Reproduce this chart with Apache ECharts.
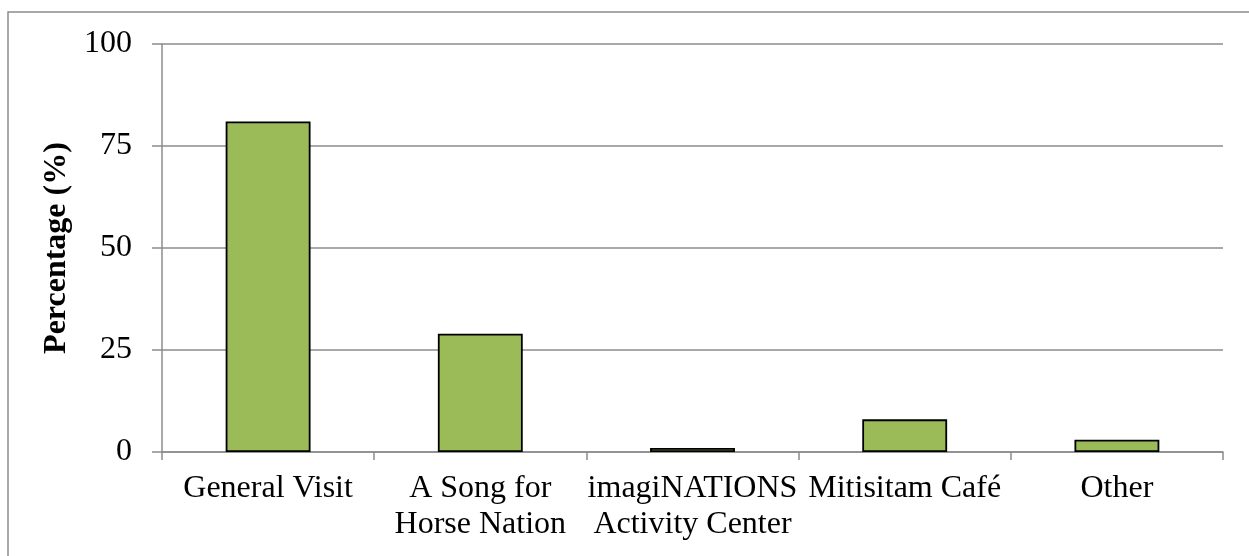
<!DOCTYPE html>
<html>
<head>
<meta charset="utf-8">
<script src="https://cdn.jsdelivr.net/npm/echarts@6/dist/echarts.min.js"></script>
<style>
  html, body { margin: 0; padding: 0; background: #fff; }
  #chart { width: 1249px; height: 556px; }
</style>
</head>
<body>
<div id="chart"></div>
<script>
// Visit purposes and their share of respondents
const categories = ['General Visit', 'A Song for\nHorse Nation', 'imagiNATIONS\nActivity Center', 'Mitisitam Café', 'Other'];
const percentages = [81, 29, 1, 8, 3];
const yTicks = [0, 25, 50, 75, 100];

const serif = '"Liberation Serif", "Times New Roman", serif';
const chart = echarts.init(document.getElementById('chart'));

chart.setOption({
  animation: false,
  backgroundColor: '#fff',
  textStyle: { fontFamily: serif },
  graphic: [{
    type: 'rect',
    shape: { x: 8, y: 12, width: 1260, height: 560 },
    style: { fill: 'none', stroke: '#8c8c8c', lineWidth: 1.5 },
    silent: true
  }],
  grid: { left: 162, right: 26, top: 44, bottom: 104, containLabel: false },
  xAxis: {
    type: 'category',
    data: categories,
    axisLine: { lineStyle: { color: '#8c8c8c', width: 1.5 } },
    axisTick: { show: true, length: 8, alignWithLabel: false, lineStyle: { color: '#8c8c8c', width: 1.5 } },
    axisLabel: {
      interval: 0,
      color: '#000',
      fontFamily: serif,
      fontSize: 32,
      lineHeight: 36,
      margin: 19
    }
  },
  yAxis: {
    type: 'value',
    min: yTicks[0],
    max: yTicks[yTicks.length - 1],
    interval: 25,
    name: 'Percentage (%)',
    nameLocation: 'middle',
    nameGap: 88,
    nameTextStyle: { fontFamily: serif, fontSize: 32, fontWeight: 'bold', color: '#000' },
    axisLine: { show: true, lineStyle: { color: '#8c8c8c', width: 1.5 } },
    axisTick: { show: true, length: 10, lineStyle: { color: '#8c8c8c', width: 1.5 } },
    axisLabel: { color: '#000', fontFamily: serif, fontSize: 32, margin: 30 },
    splitLine: { show: true, lineStyle: { color: '#8c8c8c', width: 1.5 } }
  },
  series: [{
    type: 'bar',
    data: percentages,
    barCategoryGap: '60%',
    itemStyle: { color: '#9BBB59', borderColor: '#000', borderWidth: 1.8 }
  }]
});
</script>
</body>
</html>
